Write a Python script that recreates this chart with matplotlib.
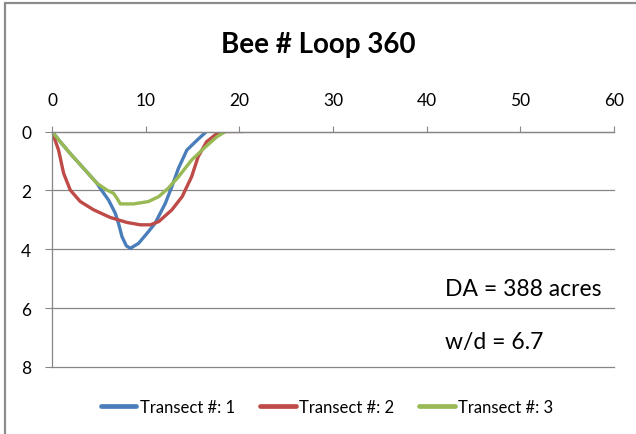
import matplotlib
matplotlib.use('Agg')
import matplotlib.pyplot as plt
from matplotlib.patches import Rectangle

# Data (station distance vs depth)
t1_x = [0, 0.89, 1.95, 3.37, 4.8, 5.15, 6.04, 6.76, 7.1, 7.47, 7.93, 8.36, 9.24, 10.3, 11.0, 12.1,
        12.8, 13.5, 14.4, 15.5, 16.5]
t1_y = [0, 0.35, 0.75, 1.25, 1.76, 1.93, 2.33, 2.78, 3.12, 3.57, 3.88, 3.97, 3.8, 3.4, 3.12, 2.44,
        1.87, 1.25, 0.63, 0.29, 0]

t2_x = [0, 0.7, 1.24, 1.95, 3.02, 4.44, 6.22, 8.0, 9.43, 10.5, 11.4, 12.8, 13.9, 14.9, 15.6, 16.5,
        17.6, 18.5, 20.4]
t2_y = [0, 0.63, 1.42, 1.99, 2.38, 2.66, 2.92, 3.09, 3.17, 3.17, 3.06, 2.66, 2.21, 1.54, 0.86, 0.35,
        0.07, 0, 0]

t3_x = [0, 0.89, 1.95, 3.37, 4.8, 5.87, 6.57, 6.94, 7.29, 8.7, 10.3, 11.4, 12.4, 13.5, 14.9, 16.4,
        17.6, 18.5]
t3_y = [0, 0.35, 0.75, 1.25, 1.76, 1.99, 2.1, 2.27, 2.46, 2.46, 2.38, 2.21, 1.93, 1.54, 0.97, 0.52,
        0.18, 0]

series_labels = ['Transect #: 1', 'Transect #: 2', 'Transect #: 3']
colors = ['#4A7EBB', '#BE4B48', '#98B954']
title = 'Bee # Loop 360'
notes = ['DA = 388 acres', 'w/d = 6.7']
x_ticks = [0, 10, 20, 30, 40, 50, 60]
y_ticks = [0, 2, 4, 6, 8]

plt.rcParams['font.family'] = ['Lato', 'DejaVu Sans']

W, H = 636, 435
fig = plt.figure(figsize=(W / 100, H / 100), dpi=100)
fig.patch.set_facecolor('white')

# outer chart border (only top & left visible)
fig.patches.append(Rectangle((5 / W, -0.1), 1.2, 1 - 4 / H + 0.1, transform=fig.transFigure,
                             fill=False, edgecolor='#8C8C8C', linewidth=1.6))

ax = fig.add_axes([52 / W, 1 - 368 / H, (614 - 52) / W, (368 - 132.5) / H])
grid_c = '#868686'
for xs, ys, c, lab in zip([t1_x, t2_x, t3_x], [t1_y, t2_y, t3_y], colors, series_labels):
    ax.plot(xs, ys, color=c, linewidth=2.4, label=lab, solid_capstyle='round',
            solid_joinstyle='round')

ax.set_xlim(0, 60)
ax.set_ylim(8, 0)
ax.xaxis.tick_top()
ax.set_xticks(x_ticks)
ax.set_yticks(y_ticks)
ax.tick_params(axis='x', colors=grid_c, labelcolor='black', length=4, width=0.8, pad=13, labelsize=12.5)
ax.tick_params(axis='y', colors=grid_c, labelcolor='black', length=5, width=0.8, pad=10, labelsize=12.5)
for s in ['right', 'bottom']:
    ax.spines[s].set_visible(False)
for s in ['top', 'left']:
    ax.spines[s].set_color(grid_c)
    ax.spines[s].set_linewidth(0.9)
ax.yaxis.grid(True, color=grid_c, linewidth=0.9)
for gl in ax.get_ygridlines():
    gl.set_clip_on(False)
ax.set_axisbelow(True)

fig.text(0.5, 1 - 45 / H, title, ha='center', va='center', fontsize=20, fontweight='bold')
fig.text(445 / W, 1 - 290 / H, notes[0], ha='left', va='center', fontsize=16.5)
fig.text(445 / W, 1 - 343 / H, notes[1], ha='left', va='center', fontsize=16.5)

leg = fig.legend(loc='center', bbox_to_anchor=(327 / W, 1 - 408 / H), ncol=3, frameon=False,
                 fontsize=12, handlelength=2.15, handletextpad=0.2, columnspacing=1.5)
for h in leg.get_lines():
    h.set_linewidth(3.4)

fig.savefig('out.png', dpi=100)
